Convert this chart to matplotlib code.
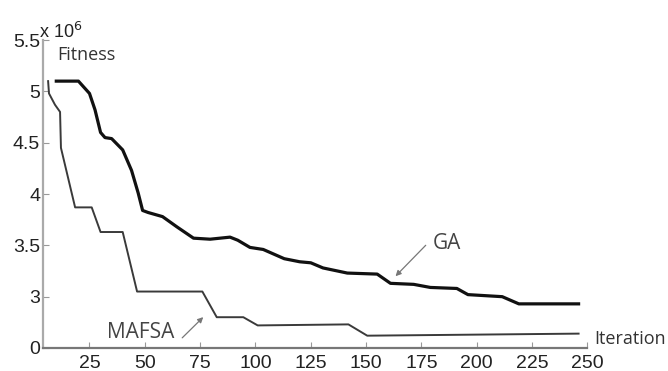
import matplotlib.pyplot as plt

# GA curve (iteration, fitness / 1e6)
ga_iter = [10, 20, 25, 27.5, 30, 32, 35, 40, 44, 47, 49, 51.5, 58, 64.5, 72, 79.5,
           88.5, 92, 97.5, 103.5, 113, 120, 125, 130.5, 141.5, 155, 161, 171.5,
           179, 191, 196, 211.5, 219, 246]
ga_fit = [5.10, 5.10, 4.98, 4.82, 4.60, 4.55, 4.54, 4.43, 4.23, 4.01, 3.84, 3.82,
          3.78, 3.68, 3.57, 3.56, 3.58, 3.55, 3.48, 3.46, 3.37, 3.34, 3.33, 3.28,
          3.23, 3.22, 3.13, 3.12, 3.09, 3.08, 3.02, 3.00, 2.93, 2.93]

# MAFSA curve
mafsa_iter = [6.3, 6.7, 9.4, 11.7, 12.1, 18.5, 26, 30, 40, 46.5, 76, 82.5, 94.5,
              101, 142, 150.5, 246]
mafsa_fit = [5.10, 4.98, 4.87, 4.80, 4.45, 3.87, 3.87, 3.63, 3.63, 3.05, 3.05,
             2.80, 2.80, 2.72, 2.73, 2.62, 2.64]

x_ticks = [25, 50, 75, 100, 125, 150, 175, 200, 225, 250]
y_ticks = [2.5, 3, 3.5, 4, 4.5, 5, 5.5]
y_labels = ["0", "3", "3.5", "4", "4.5", "5", "5.5"]


def main():
    fig = plt.figure(figsize=(6.68, 3.71), dpi=100)
    ax = fig.add_axes([0.0644, 0.062, 0.815, 0.83])

    ax.plot(ga_iter, ga_fit, color="#111111", lw=2.3)
    ax.plot(mafsa_iter, mafsa_fit, color="#3a3a3a", lw=1.4)

    ax.set_xlim(4, 250)
    ax.set_ylim(2.5, 5.5)
    ax.set_xticks(x_ticks)
    ax.set_yticks(y_ticks)
    ax.set_yticklabels(y_labels)

    for lab in ax.get_xticklabels() + ax.get_yticklabels():
        lab.set_family("Liberation Sans")
        lab.set_fontsize(14)
        lab.set_color("#222222")

    ax.tick_params(direction="in", length=4, color="#999999")
    ax.tick_params(axis="x", pad=5)
    ax.tick_params(axis="y", pad=2)
    ax.spines["top"].set_visible(False)
    ax.spines["right"].set_visible(False)
    ax.spines["left"].set_color("#aaaaaa")
    ax.spines["left"].set_linewidth(1.6)
    ax.spines["bottom"].set_color("#777777")
    ax.spines["bottom"].set_linewidth(1.6)

    # labels
    fig.text(0.058, 0.915, r"x 10$^6$", fontsize=13, family="Liberation Sans",
             color="#222222", ha="left", va="center")
    fig.text(0.085, 0.852, "Fitness", fontsize=13, family="Open Sans",
             color="#333333", ha="left", va="center")
    fig.text(0.89, 0.085, "Iteration", fontsize=13, family="Open Sans",
             color="#333333", ha="left", va="center")

    arrow = dict(arrowstyle="-|>", color="#777777", lw=0.9, mutation_scale=8)
    ax.annotate("", xy=(162.4, 3.18), xytext=(177.8, 3.52), arrowprops=arrow)
    ax.text(180, 3.52, "GA", fontsize=15, family="Open Sans", color="#444444",
            ha="left", va="center")
    ax.annotate("", xy=(77.3, 2.82), xytext=(66, 2.58), arrowprops=arrow)
    ax.text(48.3, 2.655, "MAFSA", fontsize=15, family="Open Sans",
            color="#444444", ha="center", va="center")

    fig.savefig("out.png", dpi=100)
    plt.close(fig)


if __name__ == "__main__":
    main()
